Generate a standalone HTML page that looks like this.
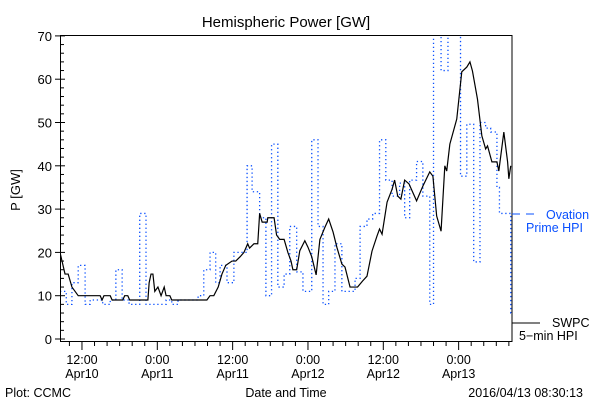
<!DOCTYPE html>
<html><head><meta charset="utf-8"><style>
body{margin:0;background:#fff;}
svg{display:block;font-family:"Liberation Sans","DejaVu Sans",sans-serif;}
</style></head><body>
<svg id="chart" width="600" height="400" viewBox="0 0 600 400" xmlns="http://www.w3.org/2000/svg">
<rect width="600" height="400" fill="#fff"/>
<text x="286" y="27" font-size="15" text-anchor="middle">Hemispheric Power [GW]</text>
<text transform="translate(20,190) rotate(-90)" font-size="13" text-anchor="middle">P [GW]</text>
<defs><clipPath id="pc"><rect x="60" y="35" width="452" height="307"/></clipPath></defs>
<g id="ticks"></g>
<g id="series" clip-path="url(#pc)"></g>
<rect x="60.5" y="35.5" width="451.5" height="306" fill="none" stroke="#000" stroke-width="1"/>
<line x1="512" y1="214" x2="540" y2="214" stroke="#0a50ff" stroke-dasharray="8,6"/>
<text x="546" y="219" font-size="12.5" fill="#0a50ff">Ovation</text>
<text x="526" y="232" font-size="12.5" fill="#0a50ff">Prime HPI</text>
<line x1="512" y1="323" x2="540" y2="323" stroke="#000"/>
<text x="552" y="327" font-size="12.5">SWPC</text>
<text x="519" y="340" font-size="12.5">5−min HPI</text>
<text x="5" y="397" font-size="12.5">Plot: CCMC</text>
<text x="286" y="397" font-size="12.5" text-anchor="middle">Date and Time</text>
<text x="583" y="397" font-size="12.5" text-anchor="end">2016/04/13 08:30:13</text>
</svg>
<script>
// time in hours since Apr10 00:00
const swpcT=[8.5,9.3,9.8,10.4,11.4,14.9,15.2,15.5,16.5,16.8,18.5,18.8,19.3,19.6,22.5,22.7,23.0,23.3,23.6,24.1,24.6,25.1,25.4,26.0,26.3,31.9,32.4,33.0,33.7,34.3,34.9,35.9,36.5,37.2,37.8,38.4,38.7,39.4,40.0,40.3,40.7,41.5,41.6,42.6,43.0,43.5,44.2,44.8,45.3,45.6,46.2,46.7,47.5,48.0,48.6,49.3,49.9,50.7,51.3,52.0,52.6,53.4,53.9,54.7,55.9,56.7,57.4,58.2,59.0,59.4,59.8,60.6,61.4,61.8,62.3,62.8,63.4,64.1,65.3,66.3,67.4,67.9,68.5,69.2,69.8,70.1,70.6,71.7,72.5,73.3,73.8,74.2,75.0,75.7,76.3,76.6,77.3,78.1,78.4,79.2,79.8,80.0,80.3];
const swpcP=[20,15,15,12,10,10,9,10,10,9,9,10,10,9,9,13,15,15,11,12,10,12,10,10,9,9,10,10,12,15,17,18,18,19,20,22,21,22,22,29,27,27,28,28,24,23,23,20,18,16,16,20.4,22.7,21.2,19,14.8,23,25.8,27.7,24.7,21.2,17.3,16.6,12,12,13.4,14.5,20.3,23.8,25.4,24.2,31.6,34.6,36.7,33,32.3,36.7,35.8,31.9,35.3,38.6,37.6,28.4,24.9,40,38.8,45,50.8,61.7,62.8,64,61.9,55.4,46.9,43.9,44.6,40.9,40.9,38.8,47.8,40.9,37,40];
const ovT=[8.5,9.5,10.4,11.4,12.5,13.3,15.3,16.5,17.4,18.4,19.5,21.2,22.2,25.4,26.3,27.3,30.5,31.4,32.4,33.3,34.0,35.1,36.2,38.3,39.1,40.3,41.3,42.2,43.2,44.2,45.1,46.2,47.2,48.6,49.6,50.4,51.3,52.3,53.4,55.5,56.3,57.4,58.3,59.4,60.4,61.4,62.6,63.4,64.2,65.3,66.3,67.4,68.0,69.2,70.3,72.3,73.3,74.4,75.4,76.3,77.1,78.1,78.5,80.3];
const ovP=[11,8,13,17,8,9,8,9,16,9,8,29,8,9,8,9,10,16,20,13,17,13,20,40,34,28,10,45,12,15,26,15.5,11,46,26,8,11,22,11,14,26,27.7,29,46,36.7,33,36,28,36.7,41,33,8,75,62,75,37.6,49.6,17.8,50,48.7,47.8,35,29,6];
const yTickVals=[0,10,20,30,40,50,60,70];
const xTickHours=[12,24,36,48,60,72];
const xTickTimes=["12:00","0:00","12:00","0:00","12:00","0:00"];
const xTickDates=["Apr10","Apr11","Apr11","Apr12","Apr12","Apr13"];
const T0=8.5,T1=80.5;
function X(h){return 60+(h-T0)*(452/(T1-T0));}
function Y(v){return 339-v*4.33;}
const NS="http://www.w3.org/2000/svg";
function mk(tag,attrs,parent){const e=document.createElementNS(NS,tag);for(const k in attrs)e.setAttribute(k,attrs[k]);parent.appendChild(e);return e;}
const tk=document.getElementById('ticks'),se=document.getElementById('series');
for(let v=0;v<=70;v+=2){const major=v%10===0;
 const l=mk('line',{x1:major?55:60,x2:major?65:64,y1:Y(v),y2:Y(v),stroke:'#000'},tk);
 
 }
yTickVals.forEach(v=>{const t=mk('text',{x:52,y:Y(v)+5,'font-size':13,'text-anchor':'end'},tk);t.textContent=v;
 
 });
for(let h=10;h<=80;h+=2){const major=h%12===0;
 const l=mk('line',{x1:X(h),x2:X(h),y1:342,y2:major?350:346,stroke:'#000'},tk);
 
 }
xTickHours.forEach((h,i)=>{
 const a=mk('text',{x:X(h),y:364,'font-size':12.5,'text-anchor':'middle'},tk);a.textContent=xTickTimes[i];
 
 
 const b=mk('text',{x:X(h),y:378,'font-size':12.5,'text-anchor':'middle'},tk);b.textContent=xTickDates[i];
 
 });
let d='';
ovT.forEach((t,i)=>{const y=Y(ovP[i]);const x=X(t);const xe=i<ovT.length-1?X(ovT[i+1]):X(T1);
 d+=(i===0?'M':'L')+x+','+y+'L'+xe+','+y;});
const ov=mk('path',{d:d,fill:'none',stroke:'#0a50ff','stroke-width':1.3,'stroke-dasharray':'1.3,2.7'},se);


const sw=mk('polyline',{points:swpcT.map((t,i)=>X(t)+','+Y(swpcP[i])).join(' '),fill:'none',stroke:'#000','stroke-width':1.2},se);


</script>
</body></html>
